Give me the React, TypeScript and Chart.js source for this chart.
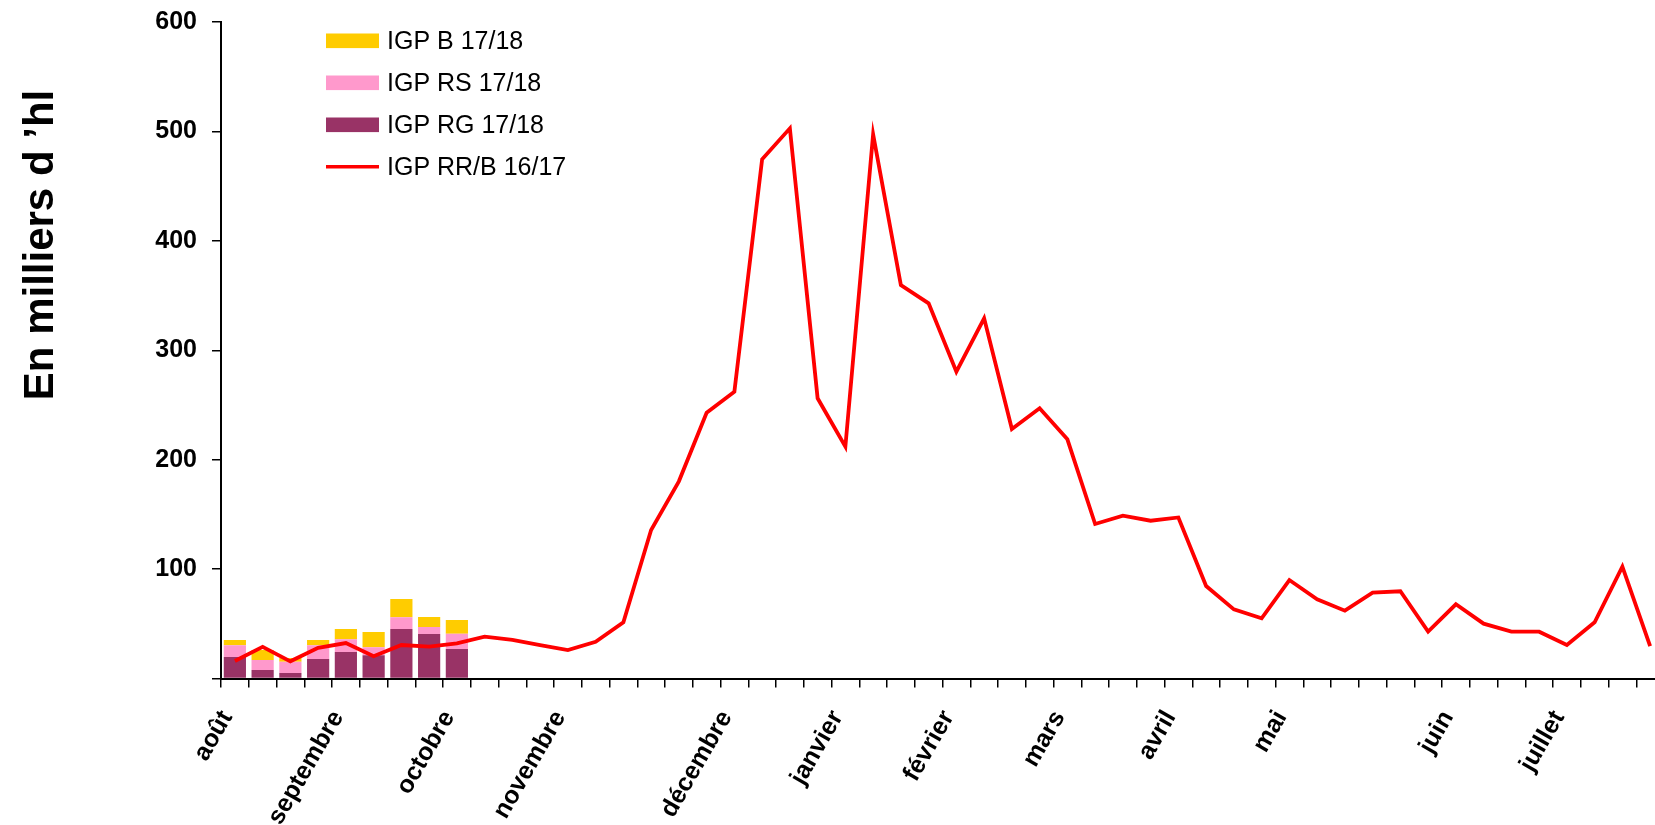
import React, { useEffect, useRef } from 'react';
import { Chart, registerables } from 'chart.js';

Chart.register(...registerables);

// Weekly categories (août → juillet); only the first week of each month carries a label
const categories = [
  'août', '', '', '',
  'septembre', '', '', '',
  'octobre', '', '', '',
  'novembre', '', '', '', '', '',
  'décembre', '', '', '',
  'janvier', '', '', '',
  'février', '', '', '',
  'mars', '', '', '',
  'avril', '', '', '',
  'mai', '', '', '', '', '',
  'juin', '', '', '',
  'juillet', '', '', '',
];

// Campaign 17/18 (stacked bars, milliers d'hl)
const igpRG1718 = [19.6, 7.8, 5.0, 17.8, 24.2, 21.3, 45.2, 40.7, 27.0];
const igpRS1718 = [10.7, 9.1, 10.4, 12.5, 11.6, 7.2, 10.7, 6.4, 13.9];
const igpB1718 = [4.9, 9.1, 3.3, 4.9, 9.4, 14.0, 16.8, 9.1, 12.6];

// Campaign 16/17 (line)
const igpRRB1617 = [
  16, 29, 15.7, 28, 32.4, 20.3, 30.6, 29.1, 32.2, 38.2, 35.2, 30.6, 26, 33.6, 51.4,
  135.7, 180.2, 242.9, 262.1, 474.5, 502.8, 256.1, 211.9, 497.3, 359.6, 342.9, 280.4,
  329.2, 228, 246.9, 218.6, 141.2, 148.8, 144.2, 147.2, 84.5, 63.2, 55, 90, 72.4, 62,
  78.4, 79.7, 42.8, 67.8, 50.1, 42.8, 42.8, 30.6, 51.4, 102.2, 29.7,
];

const seriesNames = ['IGP B 17/18', 'IGP RS 17/18', 'IGP RG 17/18', 'IGP RR/B 16/17'];
const yAxisTitle = 'En milliers d \u2019hl';

const COLOR_B = '#FFCC00';
const COLOR_RS = '#FF99CC';
const COLOR_RG = '#993366';
const COLOR_LINE = '#FF0000';
const FONT = "'Liberation Sans', Arial, Helvetica, sans-serif";

const decorPlugin = {
  id: 'decor',
  afterDraw(chart: any) {
    const ctx = chart.ctx;
    ctx.save();
    // y-axis title
    ctx.fillStyle = '#000';
    ctx.font = `bold 42px ${FONT}`;
    ctx.translate(53, 245);
    ctx.rotate(-Math.PI / 2);
    ctx.textAlign = 'center';
    ctx.textBaseline = 'alphabetic';
    ctx.fillText(yAxisTitle, 0, 0);
    ctx.restore();

    // legend
    ctx.save();
    const colors = [COLOR_B, COLOR_RS, COLOR_RG];
    const swX = 326;
    const swW = 53;
    const baselines = [49.3, 91.3, 133.3, 175.3];
    ctx.font = `25px ${FONT}`;
    ctx.textAlign = 'left';
    ctx.textBaseline = 'alphabetic';
    for (let i = 0; i < 4; i++) {
      const cy = baselines[i] - 8.5;
      if (i < 3) {
        ctx.fillStyle = colors[i];
        ctx.fillRect(swX, cy - 7.3, swW, 14.6);
      } else {
        ctx.strokeStyle = COLOR_LINE;
        ctx.lineWidth = 3.5;
        ctx.beginPath();
        ctx.moveTo(swX, cy);
        ctx.lineTo(swX + swW, cy);
        ctx.stroke();
      }
      ctx.fillStyle = '#000';
      ctx.fillText(seriesNames[i], 387, baselines[i]);
    }
    ctx.restore();
  },
};

export default function App() {
  const ref = useRef<HTMLCanvasElement | null>(null);

  useEffect(() => {
    if (!ref.current) return;
    const chart = new Chart(ref.current, {
      type: 'bar',
      data: {
        labels: categories,
        datasets: [
          {
            type: 'line',
            label: seriesNames[3],
            data: igpRRB1617,
            borderColor: COLOR_LINE,
            backgroundColor: COLOR_LINE,
            borderWidth: 3.8,
            pointRadius: 0,
            tension: 0,
            stack: 'line',
            order: 0,
          } as any,
          {
            label: seriesNames[2],
            data: igpRG1718,
            backgroundColor: COLOR_RG,
            stack: 'bars',
            order: 1,
            categoryPercentage: 0.8,
            barPercentage: 1,
          },
          {
            label: seriesNames[1],
            data: igpRS1718,
            backgroundColor: COLOR_RS,
            stack: 'bars',
            order: 1,
            categoryPercentage: 0.8,
            barPercentage: 1,
          },
          {
            label: seriesNames[0],
            data: igpB1718,
            backgroundColor: COLOR_B,
            stack: 'bars',
            order: 1,
            categoryPercentage: 0.8,
            barPercentage: 1,
          },
        ],
      },
      options: {
        responsive: false,
        animation: false,
        devicePixelRatio: 1,
        layout: { padding: { top: 22, right: 16, left: 0, bottom: 0 } },
        plugins: {
          legend: { display: false },
          tooltip: { enabled: false },
        },
        scales: {
          x: {
            stacked: true,
            offset: true,
            grid: {
              offset: true,
              drawOnChartArea: false,
              drawTicks: true,
              tickLength: 9,
              color: '#000',
              lineWidth: 1.5,
            },
            border: { display: true, color: '#000', width: 2 },
            ticks: {
              autoSkip: false,
              minRotation: 60,
              maxRotation: 60,
              padding: 18,
              labelOffset: -8,
              color: '#000',
              font: { family: FONT, size: 25, weight: 'bold' },
            },
            afterFit: (s: any) => {
              s.height = 146.5;
              s.paddingLeft = 0;
              s.paddingRight = 0;
            },
          },
          y: {
            stacked: true,
            min: 0,
            max: 600,
            grid: {
              drawOnChartArea: false,
              drawTicks: true,
              tickLength: 9,
              color: '#000',
              lineWidth: 1.5,
            },
            border: { display: true, color: '#000', width: 2 },
            ticks: {
              stepSize: 100,
              padding: 15,
              color: '#000',
              font: { family: FONT, size: 25, weight: 'bold' },
              callback: (v: any) => (Number(v) === 0 ? '' : String(v)),
            },
            afterFit: (s: any) => {
              s.width = 221;
              s.paddingTop = 0;
              s.paddingBottom = 0;
            },
          },
        },
      } as any,
      plugins: [decorPlugin],
    });
    return () => chart.destroy();
  }, []);

  return (
    <div
      style={{
        position: 'fixed',
        left: 0,
        top: 0,
        width: '1655px',
        height: '825px',
        overflow: 'hidden',
        background: '#fff',
      }}
    >
      <canvas ref={ref} width={1680} height={825} style={{ display: 'block' }} />
    </div>
  );
}
